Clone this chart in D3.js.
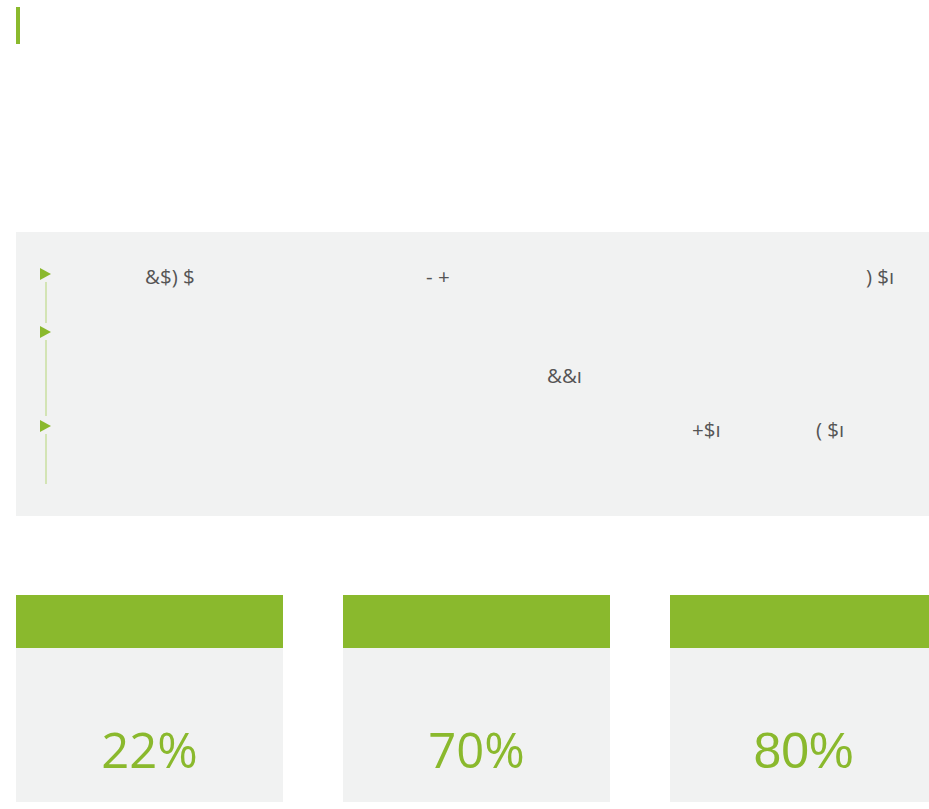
<!DOCTYPE html>
<html>
<head>
<meta charset="utf-8">
<script src="https://cdn.jsdelivr.net/npm/d3@7"></script>
<style>
	html, body { margin: 0; padding: 0; background: #fff; overflow: hidden; }
	svg { display: block; }
</style>
</head>
<body>
<svg id="slide"></svg>
<script>
// values
const cards = ['a', 'b', 'c'];
const percents = [22, 70, 80];
const bulletRows = [0, 1, 2];
const rowFragments = [
	['&$) $', '- +', ') $ı'],
	['&&ı'],
	['+$ı', '( $ı']
];

const green = '#8ab92d';
const panelGray = '#f1f2f2';

function setupSVG (svg) {
	const width = 929;
	const height = 809;
	svg.attr('width', width).attr('height', height)
		.attr('viewBox', `0 0 ${width} ${height}`);
	return { width, height, svg };
}

const { width, height, svg } = setupSVG(d3.select('svg#slide'));

// title accent bar
svg.append('rect')
	.attr('x', 16).attr('y', 7)
	.attr('width', 4).attr('height', 37)
	.attr('fill', green);

// grey bullet panel
svg.append('rect')
	.attr('x', 16).attr('y', 232)
	.attr('width', width - 16).attr('height', 284)
	.attr('fill', panelGray);

// bullet markers: triangle y, connector line end
const rowY = d3.scaleOrdinal(bulletRows, [274, 332, 426]);
const lineEnd = d3.scaleOrdinal(bulletRows, [323, 416, 484]);

const bullets = svg.selectAll('g.bullet')
	.data(bulletRows)
	.join('g')
	.attr('class', 'bullet');

bullets.append('line')
	.attr('x1', 46).attr('x2', 46)
	.attr('y1', d => rowY(d) + 8)
	.attr('y2', d => lineEnd(d))
	.attr('stroke', '#c3dc94')
	.attr('stroke-width', 1.3);

bullets.append('path')
	.attr('d', d => {
		const y = rowY(d);
		return `M40,${y - 6}L51,${y}L40,${y + 6}Z`;
	})
	.attr('fill', green);

// text fragments (glyphs as shown)
const fragX = [[145, 426, 866], [547], [692, 816]];
const fragBase = [284, 383, 437];

const frags = rowFragments.flatMap((row, i) => row.map((t, j) => ({ t, x: fragX[i][j], y: fragBase[i] })));

svg.selectAll('text.frag')
	.data(frags)
	.join('text')
	.attr('class', 'frag')
	.attr('x', d => d.x)
	.attr('y', d => d.y)
	.attr('font-family', '"Open Sans", sans-serif')
	.attr('font-size', 20.5)
	.attr('fill', '#555')
	.text(d => d.t);

// percentage cards
const x = d3.scaleBand(cards, [16, 16 + 3 * 267 + 2 * 60]).paddingInner(60 / 327);

const card = svg.selectAll('g.card')
	.data(cards)
	.join('g')
	.attr('class', 'card')
	.attr('transform', d => `translate(${x(d)}, 595)`);

card.append('rect')
	.attr('width', x.bandwidth())
	.attr('height', 207)
	.attr('fill', panelGray);

card.append('rect')
	.attr('width', x.bandwidth())
	.attr('height', 53)
	.attr('fill', green);

card.append('text')
	.attr('x', x.bandwidth() / 2)
	.attr('y', 173)
	.attr('text-anchor', 'middle')
	.attr('font-family', (d, i) => i === 2 ? '"Liberation Sans", Arial, sans-serif' : '"Open Sans", sans-serif')
	.attr('font-size', (d, i) => i === 2 ? 50 : 49)
	.attr('font-weight', (d, i) => i === 2 ? 400 : 500)
	.attr('fill', green)
	.text((d, i) => `${percents[i]}%`);
</script>
</body>
</html>
